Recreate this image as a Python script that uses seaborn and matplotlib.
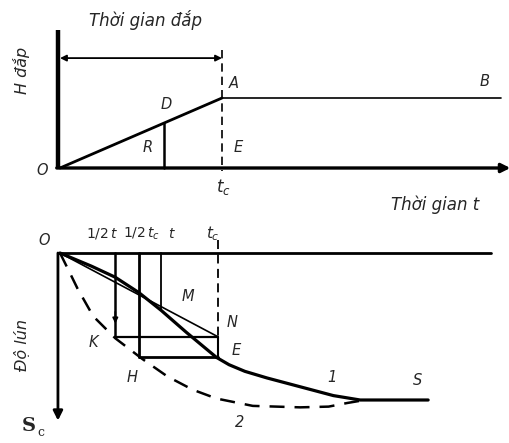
import matplotlib
matplotlib.use("Agg")
import matplotlib.pyplot as plt
import seaborn as sns

# fill height (time in units of t_c, height in units of the final fill height)
fill_t = [0.0, 1.0, 2.72]
fill_h = [0.0, 1.0, 1.0]

# curve 2: settlement under instant loading (settlement in units of final S)
inst_t = [0.0, 0.06, 0.11, 0.21, 0.35, 0.52, 0.68, 0.84, 0.99, 1.22, 1.52, 1.70, 1.82, 1.93]
inst_s = [0.0, 0.13, 0.24, 0.43, 0.58, 0.72, 0.84, 0.93, 0.99, 1.04, 1.05, 1.045, 1.02, 1.0]

# curve 1: settlement corrected for the construction period
corr_t = [0.0, 0.2, 0.35, 0.5, 0.64, 0.8, 0.99, 1.07, 1.17, 1.31, 1.52, 1.73, 1.9, 2.33]
corr_s = [0.0, 0.09, 0.165, 0.27, 0.39, 0.54, 0.71, 0.76, 0.805, 0.85, 0.91, 0.97, 1.0, 1.0]

t_c = 1.0
t_now = 0.64     # t
t_half = 0.35    # 1/2 t
s_K = 0.57       # curve 2 at 1/2 t
s_H = 0.71       # curve 2 at 1/2 t_c
s_M = 0.39       # curve 1 at t

sns.set_style("white")
plt.rcParams["font.family"] = ["DejaVu Sans"]

fig = plt.figure(figsize=(5.1, 4.43), dpi=100)
fig.patch.set_facecolor("white")

# top panel: x_px = 60 + 162 t, y_px = 168 - 70 H
ax1 = fig.add_axes([0, 0, 1, 1])
ax1.set_xlim(-60 / 162, 450 / 162)
ax1.set_ylim((168 - 443) / 70, 168 / 70)
ax1.axis("off")

# bottom panel: x_px = 60 + 158 t, y_px = 253 + 147 s
ax2 = fig.add_axes([0, 0, 1, 1])
ax2.set_xlim(-60 / 158, 450 / 158)
ax2.set_ylim((443 - 253) / 147, -253 / 147)
ax2.axis("off")
ax2.patch.set_alpha(0)

k = dict(color="black", legend=False, estimator=None, sort=False)
lab = dict(fontsize=10.5, style="italic", ha="center", va="center")

# ---------- top: fill height ----------
ax1.plot([-0.012, -0.012], [1.97, 0], color="black", lw=3.2, solid_capstyle="butt")
ax1.annotate("", xy=(2.78, 0), xytext=(-0.02, 0),
             arrowprops=dict(arrowstyle="-|>", lw=2.4, color="black",
                             mutation_scale=13, shrinkA=0, shrinkB=0))
sns.lineplot(x=fill_t[:2], y=fill_h[:2], lw=2.0, ax=ax1, **k)
sns.lineplot(x=fill_t[1:], y=fill_h[1:], lw=1.2, ax=ax1, **k)
ax1.plot([t_c, t_c], [1.69, -0.04], color="black", lw=1.2, dashes=(5, 3))
ax1.plot([t_now, t_now], [0, t_now / t_c], color="black", lw=1.8)
ax1.annotate("", xy=(t_c, 1.57), xytext=(0, 1.57),
             arrowprops=dict(arrowstyle="<|-|>", lw=1.3, color="black",
                             mutation_scale=9, shrinkA=0, shrinkB=0))

ax1.text(0.525, 2.11, "Thời gian đắp", fontsize=12, style="italic",
         ha="center", va="center")
ax1.text(-0.235, 1.40, "H đắp", fontsize=11.5, style="italic", rotation=90,
         ha="center", va="center")
ax1.text(-0.11, -0.03, "O", **lab)
ax1.text(0.654, 0.91, "D", **lab)
ax1.text(0.543, 0.29, "R", **lab)
ax1.text(1.074, 1.21, "A", **lab)
ax1.text(1.099, 0.30, "E", **lab)
ax1.text(2.623, 1.23, "B", **lab)
ax1.text(1.01, -0.27, "$t_c$", fontsize=12, ha="center", va="center")
ax1.text(2.315, -0.53, "Thời gian t", fontsize=12, style="italic",
         ha="center", va="center")

# ---------- bottom: settlement ----------
ax2.plot([-0.013, 2.73], [0, 0], color="black", lw=2.0)
ax2.annotate("", xy=(-0.013, 1.14), xytext=(-0.013, 0),
             arrowprops=dict(arrowstyle="-|>", lw=2.0, color="black",
                             mutation_scale=14, shrinkA=0, shrinkB=0))

sns.lineplot(x=inst_t, y=inst_s, lw=1.8, ax=ax2, **k)
ax2.lines[-1].set_dashes((6, 4))
sns.lineplot(x=corr_t, y=corr_s, lw=2.3, ax=ax2, **k)
ax2.plot([0, t_c], [0, s_K], color="black", lw=1.2)

# construction lines
ax2.plot([t_half, t_half], [0, s_K], color="black", lw=1.8)
ax2.annotate("", xy=(t_half, 0.48), xytext=(t_half, 0.40),
             arrowprops=dict(arrowstyle="-|>", lw=1.2, color="black",
                             mutation_scale=8, shrinkA=0, shrinkB=0))
ax2.plot([t_half, t_c], [s_K, s_K], color="black", lw=1.6)
ax2.plot([t_c / 2, t_c / 2], [0, s_H], color="black", lw=2.0)
ax2.plot([t_c / 2, t_c], [s_H, s_H], color="black", lw=2.0)
ax2.plot([t_now, t_now], [0, s_M], color="black", lw=1.3)
ax2.plot([t_c, t_c], [-0.09, s_K], color="black", lw=1.3, dashes=(5, 3))
ax2.plot([t_c, t_c], [s_K, s_H], color="black", lw=1.5)

ax2.text(-0.10, -0.088, "O", **lab)
ax2.text(0.266, -0.13, "$1/2\\,t$", fontsize=10, ha="center", va="center")
ax2.text(0.513, -0.13, "$1/2\\,t_c$", fontsize=10, ha="center", va="center")
ax2.text(0.709, -0.13, "$t$", fontsize=10, ha="center", va="center")
ax2.text(0.968, -0.13, "$t_c$", fontsize=11, ha="center", va="center")
ax2.text(0.81, 0.293, "M", **lab)
ax2.text(1.089, 0.476, "N", **lab)
ax2.text(1.114, 0.66, "E", **lab)
ax2.text(0.209, 0.612, "K", **lab)
ax2.text(0.456, 0.844, "H", **lab)
ax2.text(1.722, 0.844, "1", **lab)
ax2.text(2.266, 0.864, "S", **lab)
ax2.text(1.139, 1.156, "2", **lab)
ax2.text(-0.241, 0.626, "Độ lún", fontsize=11.5, style="italic", rotation=90,
         ha="center", va="center")
ax2.text(-0.20, 1.18, "S", fontsize=14, family="DejaVu Serif", fontweight="bold",
         ha="center", va="center")
ax2.text(-0.12, 1.22, "c", fontsize=9, family="DejaVu Serif",
         ha="center", va="center")

fig.savefig("out.png", dpi=100, facecolor="white")
